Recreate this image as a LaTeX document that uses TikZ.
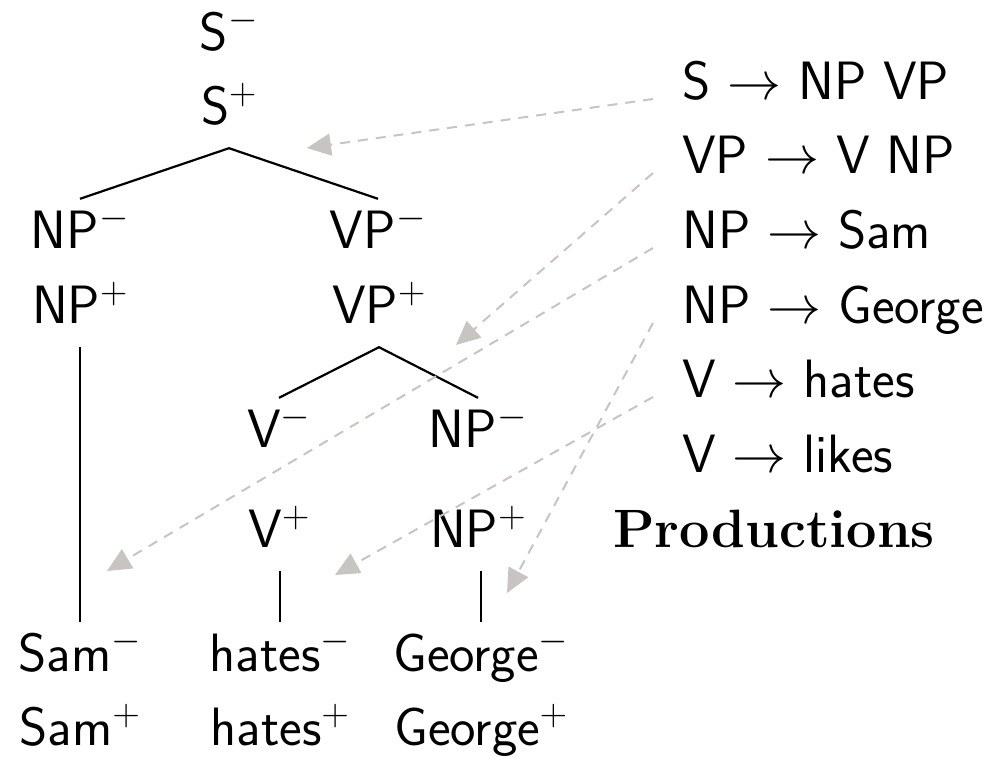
\RequirePackage{fix-cm}
\documentclass[tikz,border=0pt]{standalone}
\usetikzlibrary{arrows.meta}
\definecolor{arrowgray}{RGB}{200,196,194}
\begin{document}
\begin{tikzpicture}[x=1pt,y=-1pt,
  every node/.style={font=\fontsize{54pt}{74pt}\selectfont\sffamily},
  tn/.style={inner xsep=0pt, inner ysep=12pt, anchor=base, text height=37pt, text depth=12pt},
  rule/.style={inner sep=0pt, anchor=base west},
  branch/.style={line width=2.2pt, draw=black},
  ptr/.style={draw=arrowgray, line width=2pt, dash pattern=on 10pt off 8pt,
    -{Triangle[length=24pt,width=22pt,fill=arrowgray]}}]
\useasboundingbox (0,0) rectangle (1007,756);

% tree
\node[tn] (sm) at (229,50) {S$^-$};
\node[tn] (sp) at (229,124) {S$^+$};
\node[tn] (npm) at (80,248) {NP$^-$};
\node[tn] (npp) at (80,323) {NP$^+$};
\node[tn] (vpm) at (378,248) {VP$^-$};
\node[tn] (vpp) at (379,323) {VP$^+$};
\node[tn] (vm) at (279,447) {V$^-$};
\node[tn] (vp) at (279,547) {V$^+$};
\node[tn] (nqm) at (478,447) {NP$^-$};
\node[tn] (nqp) at (478,547) {NP$^+$};
\node[tn] (samm) at (80,671) {Sam$^-$};
\node[tn] (samp) at (80,745) {Sam$^+$};
\node[tn] (hatm) at (280,671) {hates$^-$};
\node[tn] (hatp) at (280,745) {hates$^+$};
\node[tn] (geom) at (481,671) {George$^-$};
\node[tn] (geop) at (481,745) {George$^+$};

\draw[branch] (npm.north) -- (sp.south) -- (vpm.north);
\draw[branch] (vm.north) -- (vpp.south) -- (nqm.north);
\draw[branch] (samm.north |- npp.south) -- (samm.north);
\draw[branch] (hatm.north |- vp.south) -- (hatm.north);
\draw[branch] (geom.north |- nqp.south) -- (geom.north);

% productions
\node[rule] (r1) at (682,99) {S $\rightarrow$ NP VP};
\node[rule] (r2) at (682,173) {VP $\rightarrow$ V NP};
\node[rule] (r3) at (682,248) {NP $\rightarrow$ Sam};
\node[rule] (r4) at (682,323) {NP $\rightarrow$ George};
\node[rule] (r5) at (682,397) {V $\rightarrow$ hates};
\node[rule] (r6) at (682,472) {V $\rightarrow$ likes};
\node[rule] (prod) at (613,547) {\rmfamily\bfseries Productions};

% pointer tips
\coordinate (t1) at (307,148);
\coordinate (t2) at (456,345);
\coordinate (t3) at (107,571);
\coordinate (t4) at (507,593);
\coordinate (t5) at (335,575);

\draw[ptr] ([xshift=-29pt]r1.base west) -- (t1);
\draw[ptr] ([xshift=-29pt]r2.base west) -- (t2);
\draw[ptr] ([xshift=-29pt]r3.base west) -- (t3);
\draw[ptr] ([xshift=-29pt]r4.base west) -- (t4);
\draw[ptr] ([xshift=-29pt]r5.base west) -- (t5);
\end{tikzpicture}
\end{document}
